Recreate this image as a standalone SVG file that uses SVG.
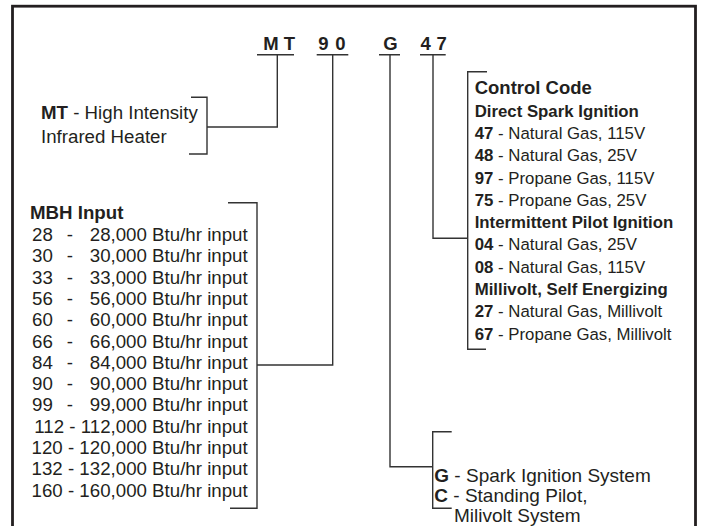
<svg xmlns="http://www.w3.org/2000/svg" width="701" height="526" viewBox="0 0 701 526">
<style>
text{font-family:"Liberation Sans",Arial,Helvetica,sans-serif;fill:#231f20}
.b{font-weight:bold}
.code{font-size:18.5px;font-weight:bold;text-anchor:middle}
.m{font-size:18.7px}
.c{font-size:16.8px}
.g{font-size:19px}
.e{text-anchor:end}
.ln{fill:none;stroke:#333;stroke-width:1.4}
.frame{fill:none;stroke:#231f20;stroke-width:2.8}
</style>
<rect width="701" height="526" fill="#fff"/>
<rect class="frame" x="12.5" y="6.2" width="683" height="540"/>

<g id="header">
<text class="code" x="271" y="50">M</text>
<text class="code" x="289.5" y="50">T</text>
<text class="code" x="323.5" y="50">9</text>
<text class="code" x="340.5" y="50">0</text>
<text class="code" x="390.5" y="50">G</text>
<text class="code" x="425.7" y="50">4</text>
<text class="code" x="441.6" y="50">7</text>
<path class="ln" d="M257 54.7H294M316.7 54.7H348.3M379 54.7H400M420 54.7H445.7"/>
</g>

<g id="connectors">
<polyline class="ln" points="277.3,54.7 277.3,127 207,127"/>
<polyline class="ln" points="332.7,54.7 332.7,365 257,365"/>
<polyline class="ln" points="390,54.7 390,466.7 432.7,466.7"/>
<polyline class="ln" points="433,54.7 433,238.3 467.7,238.3"/>
</g>

<g id="mt-node">
<polyline class="ln" points="191,97.3 207,97.3 207,154 189,154"/>
<text class="m" x="41" y="119"><tspan class="b">MT</tspan> - High Intensity</text>
<text class="m" x="41" y="142.7">Infrared Heater</text>
</g>

<g id="mbh-node">
<polyline class="ln" points="228,202.7 257,202.7 257,508.3 230,508.3"/>
<text class="m b" x="30" y="219">MBH Input</text>
<text class="m" x="32" y="241">28</text><text class="m" x="66.7" y="241">-</text><text class="m e" x="247.7" y="241">28,000 Btu/hr input</text>
<text class="m" x="32" y="262.3">30</text><text class="m" x="66.7" y="262.3">-</text><text class="m e" x="247.7" y="262.3">30,000 Btu/hr input</text>
<text class="m" x="32" y="283.6">33</text><text class="m" x="66.7" y="283.6">-</text><text class="m e" x="247.7" y="283.6">33,000 Btu/hr input</text>
<text class="m" x="32" y="304.9">56</text><text class="m" x="66.7" y="304.9">-</text><text class="m e" x="247.7" y="304.9">56,000 Btu/hr input</text>
<text class="m" x="32" y="326.2">60</text><text class="m" x="66.7" y="326.2">-</text><text class="m e" x="247.7" y="326.2">60,000 Btu/hr input</text>
<text class="m" x="32" y="347.5">66</text><text class="m" x="66.7" y="347.5">-</text><text class="m e" x="247.7" y="347.5">66,000 Btu/hr input</text>
<text class="m" x="32" y="368.8">84</text><text class="m" x="66.7" y="368.8">-</text><text class="m e" x="247.7" y="368.8">84,000 Btu/hr input</text>
<text class="m" x="32" y="390.1">90</text><text class="m" x="66.7" y="390.1">-</text><text class="m e" x="247.7" y="390.1">90,000 Btu/hr input</text>
<text class="m" x="32" y="411.4">99</text><text class="m" x="66.7" y="411.4">-</text><text class="m e" x="247.7" y="411.4">99,000 Btu/hr input</text>
<text class="m e" x="247.7" y="432.7">112 - 112,000 Btu/hr input</text>
<text class="m e" x="247.7" y="454">120 - 120,000 Btu/hr input</text>
<text class="m e" x="247.7" y="475.3">132 - 132,000 Btu/hr input</text>
<text class="m e" x="247.7" y="496.6">160 - 160,000 Btu/hr input</text>
</g>

<g id="control-node">
<polyline class="ln" points="487,71.7 467.7,71.7 467.7,349.3 486,349.3"/>
<text class="b" style="font-size:18.5px" x="474.7" y="94.3">Control Code</text>
<text class="c b" x="474.7" y="116.6">Direct Spark Ignition</text>
<text class="c" x="474.7" y="138.9"><tspan class="b">47</tspan> - Natural Gas, 115V</text>
<text class="c" x="474.7" y="161.2"><tspan class="b">48</tspan> - Natural Gas, 25V</text>
<text class="c" x="474.7" y="183.5"><tspan class="b">97</tspan> - Propane Gas, 115V</text>
<text class="c" x="474.7" y="205.8"><tspan class="b">75</tspan> - Propane Gas, 25V</text>
<text class="c b" x="474.7" y="228.1">Intermittent Pilot Ignition</text>
<text class="c" x="474.7" y="250.4"><tspan class="b">04</tspan> - Natural Gas, 25V</text>
<text class="c" x="474.7" y="272.7"><tspan class="b">08</tspan> - Natural Gas, 115V</text>
<text class="c b" x="474.7" y="295">Millivolt, Self Energizing</text>
<text class="c" x="474.7" y="317.3"><tspan class="b">27</tspan> - Natural Gas, Millivolt</text>
<text class="c" x="474.7" y="339.6"><tspan class="b">67</tspan> - Propane Gas, Millivolt</text>
</g>

<g id="g-node">
<polyline class="ln" points="451.7,431.7 432.7,431.7 432.7,508.3 451.7,508.3"/>
<text class="g" x="434.3" y="482.3"><tspan class="b">G</tspan> - Spark Ignition System</text>
<text class="g" x="434.3" y="502.3"><tspan class="b">C</tspan> - Standing Pilot,</text>
<text class="g" x="454" y="522.3">Milivolt System</text>
</g>
</svg>
